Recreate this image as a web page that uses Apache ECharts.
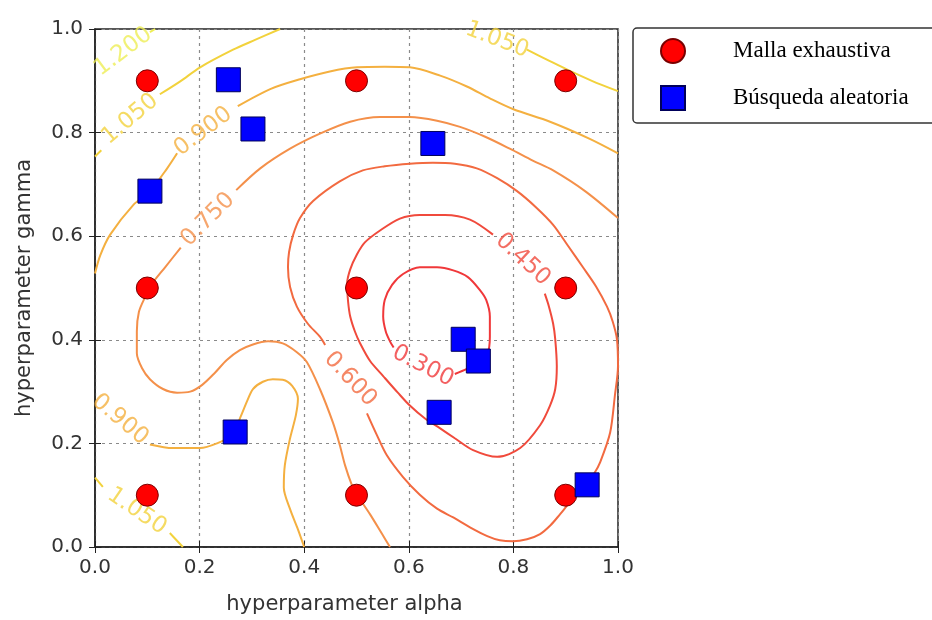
<!DOCTYPE html>
<html><head><meta charset="utf-8">
<script src="https://cdn.jsdelivr.net/npm/echarts@6/dist/echarts.min.js"></script>
<style>html,body{margin:0;padding:0;background:#fff}#chart{width:932px;height:620px}</style>
</head><body><div id="chart"></div>
<script>
// ---- data ----
const axisTicks = [0, 0.2, 0.4, 0.6, 0.8, 1.0];
const levels = ['0.300', '0.450', '0.600', '0.750', '0.900', '1.050', '1.200'];

const gridSearch = [[0.1,0.1],[0.1,0.5],[0.1,0.9],[0.5,0.1],[0.5,0.5],[0.5,0.9],[0.9,0.1],[0.9,0.5],[0.9,0.9]];
const randomSearch = [[0.255,0.902],[0.302,0.807],[0.105,0.687],[0.646,0.779],[0.704,0.401],[0.733,0.359],[0.658,0.26],[0.268,0.222],[0.941,0.12]];

const contour0300 = [
  [[0.688,0.334],[0.711,0.344],[0.732,0.355],[0.75,0.372],[0.755,0.406],[0.755,0.445],[0.748,0.477],[0.736,0.496],[0.713,0.521],[0.685,0.534],[0.654,0.54],[0.621,0.54],[0.589,0.527],[0.568,0.506],[0.554,0.477],[0.551,0.445],[0.556,0.416],[0.564,0.397],[0.571,0.385]]
];
const contour0450 = [
  [[0.761,0.603],[0.717,0.632],[0.669,0.641],[0.621,0.641],[0.583,0.634],[0.545,0.611],[0.516,0.588],[0.501,0.565],[0.488,0.536],[0.482,0.508],[0.484,0.473],[0.488,0.445],[0.497,0.416],[0.507,0.393],[0.526,0.359],[0.551,0.33],[0.579,0.298],[0.602,0.273],[0.631,0.248],[0.66,0.229],[0.688,0.21],[0.723,0.187],[0.769,0.174],[0.813,0.191],[0.851,0.235],[0.87,0.273],[0.88,0.305],[0.883,0.349],[0.88,0.401],[0.876,0.431],[0.868,0.464],[0.86,0.489]]
];
const contour0600 = [
  [[0.52,0.258],[0.539,0.216],[0.558,0.177],[0.589,0.135],[0.621,0.101],[0.654,0.074],[0.685,0.057],[0.717,0.038],[0.75,0.021],[0.774,0.013],[0.799,0.011],[0.826,0.015],[0.851,0.025],[0.871,0.042],[0.889,0.063],[0.908,0.086],[0.925,0.104],[0.941,0.124],[0.955,0.143],[0.966,0.164],[0.985,0.221],[0.994,0.292],[1.0,0.35],[0.998,0.401],[0.99,0.435],[0.979,0.464],[0.958,0.503],[0.933,0.54],[0.904,0.582],[0.876,0.622],[0.843,0.656],[0.807,0.687],[0.769,0.712],[0.73,0.731],[0.688,0.74],[0.646,0.742],[0.602,0.74],[0.554,0.735],[0.512,0.727],[0.468,0.706],[0.417,0.668],[0.392,0.635],[0.379,0.603],[0.371,0.569],[0.369,0.54],[0.373,0.502],[0.386,0.464],[0.407,0.431],[0.43,0.406],[0.44,0.39]]
];
const contour0750 = [
  [[0.27,0.689],[0.316,0.731],[0.373,0.769],[0.43,0.798],[0.488,0.821],[0.545,0.83],[0.602,0.83],[0.654,0.823],[0.698,0.811],[0.746,0.792],[0.793,0.769],[0.837,0.746],[0.876,0.727],[0.937,0.687],[1.0,0.635]],
  [[0.164,0.578],[0.134,0.54],[0.109,0.508],[0.096,0.483],[0.084,0.454],[0.08,0.416],[0.08,0.374],[0.09,0.345],[0.105,0.324],[0.13,0.305],[0.157,0.298],[0.182,0.3],[0.205,0.313],[0.229,0.336],[0.252,0.361],[0.277,0.38],[0.302,0.391],[0.331,0.397],[0.359,0.393],[0.386,0.376],[0.405,0.357],[0.43,0.305],[0.455,0.24],[0.468,0.197],[0.478,0.158],[0.491,0.12],[0.501,0.101],[0.526,0.063],[0.549,0.025],[0.564,0]]
];
const contour0900 = [
  [[0,0.528],[0.01,0.563],[0.029,0.603],[0.073,0.66],[0.105,0.687],[0.138,0.731],[0.157,0.76]],
  [[0.273,0.851],[0.335,0.884],[0.392,0.903],[0.449,0.918],[0.501,0.926],[0.554,0.927],[0.602,0.926],[0.66,0.91],[0.711,0.889],[0.755,0.866],[0.8,0.845],[0.87,0.821],[0.946,0.788],[1.0,0.76]],
  [[0.105,0.198],[0.149,0.191],[0.201,0.191],[0.233,0.2],[0.262,0.216],[0.277,0.248],[0.291,0.282],[0.302,0.305],[0.321,0.319],[0.34,0.324],[0.359,0.323],[0.377,0.311],[0.388,0.286],[0.384,0.254],[0.373,0.21],[0.363,0.158],[0.361,0.115],[0.373,0.073],[0.388,0.034],[0.4,0]]
];
const contour1050 = [
  [[0,0.754],[0.012,0.766]],
  [[0.124,0.874],[0.163,0.899],[0.201,0.926],[0.264,0.96],[0.306,0.979],[0.354,1.0]],
  [[0.826,0.96],[0.864,0.941],[0.902,0.922],[0.95,0.9],[1.0,0.88]],
  [[0,0.134],[0.015,0.116]],
  [[0.143,0.027],[0.168,0]]
];
const contour1200 = [
  [[0.105,0.994],[0.115,1.0]]
];

const contourLabelPos = [[0.627,0.349],[0.818,0.555],[0.488,0.324],[0.216,0.632],[0.207,0.802],[0.048,0.246],[0.067,0.826],[0.769,0.979],[0.08,0.069],[0.054,0.956]];
const contourLabelLevel = [0,1,2,3,4,4,5,5,5,6];
const contourLabelAngle = [-27,-43,-47,45,37,-40,40,-21,-34,37];

// ---- style ----
const levelColors = ['#f0383a','#f04a3c','#f26a40','#f4904a','#f4b040','#f2d23c','#eeee55'];
const contourSets = [contour0300, contour0450, contour0600, contour0750, contour0900, contour1050, contour1200];

const series = [];
contourSets.forEach((segs, li) => {
  segs.forEach((seg) => {
    series.push({
      type: 'line', data: seg, showSymbol: false, smooth: 0.3, silent: true,
      lineStyle: { color: levelColors[li], width: 2 }, z: 2, animation: false
    });
  });
});
series.push({
  type: 'scatter', silent: true, z: 3, symbolSize: 1,
  itemStyle: { color: 'rgba(0,0,0,0)' },
  data: contourLabelPos.map((p, i) => ({
    value: p,
    label: { rotate: contourLabelAngle[i], color: levelColors[contourLabelLevel[i]] }
  })),
  label: {
    show: true, position: 'inside', fontSize: 23, fontFamily: 'DejaVu Sans',
    formatter: (p) => levels[contourLabelLevel[p.dataIndex]]
  },
  animation: false
});
series.push({
  name: 'Malla exhaustiva', type: 'scatter', data: gridSearch, symbol: 'circle', symbolSize: 22, z: 5,
  itemStyle: { color: '#ff0000', borderColor: '#7a0000', borderWidth: 1, opacity: 1 }, animation: false
});
series.push({
  name: 'Búsqueda aleatoria', type: 'scatter', data: randomSearch, symbol: 'rect', symbolSize: 24, z: 6,
  itemStyle: { color: '#0000ff', borderColor: '#00005a', borderWidth: 1, opacity: 1 }, animation: false
});

const tickFmt = (v) => v.toFixed(1);
const baseAxis = {
  type: 'value', min: 0, max: 1, interval: 0.2
};
const chart = echarts.init(document.getElementById('chart'));
chart.setOption({
  backgroundColor: '#fff',
  animation: false,
  grid: { left: 95, top: 29, width: 523, height: 524, show: true, borderColor: '#222', borderWidth: 1.5 },
  legend: {
    orient: 'vertical', left: 633, top: 28,
    data: ['Malla exhaustiva', 'Búsqueda aleatoria'],
    padding: [10, 60, 12, 27], itemWidth: 24, itemHeight: 24, itemGap: 21,
    borderColor: '#333', borderWidth: 1.5, borderRadius: 4, backgroundColor: '#fff',
    textStyle: { fontFamily: 'Liberation Serif', fontSize: 23, color: '#000', padding: [0,0,0,43], lineHeight: 24 }
  },
  xAxis: [
    Object.assign({}, baseAxis, {
      position: 'bottom',
      name: 'hyperparameter alpha', nameLocation: 'middle', nameGap: 47,
      nameTextStyle: { fontFamily: 'DejaVu Sans', fontSize: 21, color: '#333', padding: [0, 24, 0, 0] },
      axisLine: { show: true, lineStyle: { color: '#222', width: 1.5 } },
      axisTick: { show: true, inside: true, length: 6, lineStyle: { color: '#222' } },
      axisLabel: { fontFamily: 'DejaVu Sans', fontSize: 20, color: '#333', margin: 11, formatter: tickFmt },
      splitLine: { show: true, lineStyle: { color: '#8a8a8a', type: [3, 4], width: 1.2 } }
    }),
    Object.assign({}, baseAxis, {
      position: 'top',
      axisLine: { show: false },
      axisTick: { show: true, inside: true, length: 6, lineStyle: { color: '#222' } },
      axisLabel: { show: false }, splitLine: { show: false }
    })
  ],
  yAxis: [
    Object.assign({}, baseAxis, {
      position: 'left',
      name: 'hyperparameter gamma', nameLocation: 'middle', nameGap: 60,
      nameTextStyle: { fontFamily: 'DejaVu Sans', fontSize: 21, color: '#333' },
      axisLine: { show: true, lineStyle: { color: '#222', width: 1.5 } },
      axisTick: { show: true, inside: true, length: 6, lineStyle: { color: '#222' } },
      axisLabel: { fontFamily: 'DejaVu Sans', fontSize: 20, color: '#333', margin: 12, formatter: tickFmt },
      splitLine: { show: true, lineStyle: { color: '#8a8a8a', type: [3, 4], width: 1.2 } }
    }),
    Object.assign({}, baseAxis, {
      position: 'right',
      axisLine: { show: false },
      axisTick: { show: true, inside: true, length: 6, lineStyle: { color: '#222' } },
      axisLabel: { show: false }, splitLine: { show: false }
    })
  ],
  series: series
});
</script></body></html>
